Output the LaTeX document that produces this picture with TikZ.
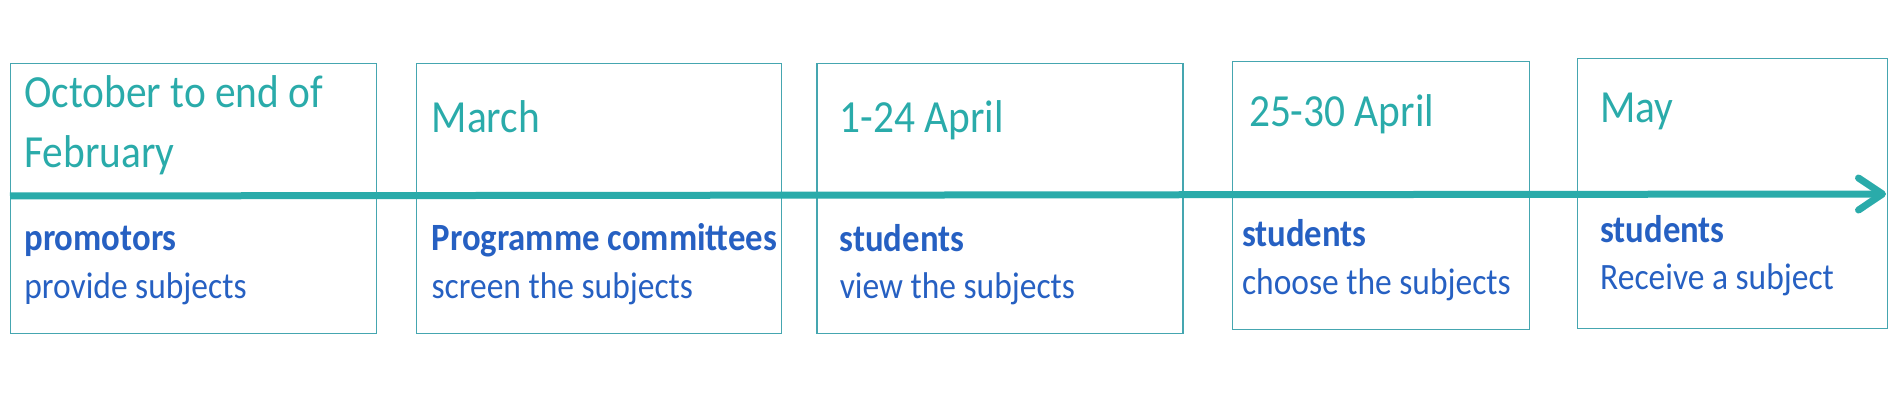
\documentclass[tikz,border=0pt]{standalone}
\usepackage{fontspec}
\setmainfont{Carlito}[FakeStretch=0.9]
\usetikzlibrary{positioning,arrows.meta}
\definecolor{lineteal}{HTML}{2AABAA}
\definecolor{frameteal}{HTML}{45A6B0}
\definecolor{textblue}{HTML}{2660C2}
\tikzstyle{period} = [draw=frameteal, line width=0.6pt, rectangle, minimum height=135pt, inner sep=0pt]
\tikzstyle{when} = [text=lineteal, font=\fontsize{23}{30}\selectfont, inner sep=0pt]
\tikzstyle{who} = [text=textblue, font=\fontsize{19.3}{24}\selectfont\bfseries, inner sep=0pt]
\tikzstyle{what} = [text=textblue, font=\fontsize{18.6}{24}\selectfont, inner sep=0pt]

\begin{document}
\begin{tikzpicture}[x=0.5pt, y=-0.5pt]
        \useasboundingbox (0,0) rectangle (1890,416);

        % the five periods
        \node [period, minimum width=183pt, anchor=north west] (oct) at (10,63) {};
        \node [period, minimum width=182.5pt, right=19.5pt of oct] (mar) {};
        \node [period, minimum width=183pt, right=17pt of mar] (apr) {};
        \node [period, minimum width=148.5pt, minimum height=134pt, right=24pt of apr, yshift=1.5pt] (late) {};
        \node [period, minimum width=155pt, right=23.5pt of late, yshift=1pt] (may) {};

        % time line
        \coordinate (tl-start) at (10,196);
        \coordinate (tl-end) at (1886,194);
        \draw [lineteal, line width=3.5pt, -{Straight Barb[length=12pt, width=16pt, round]}] (tl-start) -- (tl-end);

        \node [when, below right=22.5pt and 7pt of oct.north west, anchor=base west] (oct-when1) {October to end of};
        \node [when, below right=52.5pt and 7pt of oct.north west, anchor=base west] (oct-when2) {February};
        \node [who, below right=94pt and 7pt of oct.north west, anchor=base west] (oct-who) {promotors};
        \node [what, below right=118pt and 7pt of oct.north west, anchor=base west] (oct-what) {provide subjects};

        \node [when, below right=35pt and 7.5pt of mar.north west, anchor=base west] (mar-when) {March};
        \node [who, below right=94pt and 7.5pt of mar.north west, anchor=base west] (mar-who) {Programme committees};
        \node [what, below right=118pt and 7.5pt of mar.north west, anchor=base west] (mar-what) {screen the subjects};

        \node [when, below right=35pt and 11.5pt of apr.north west, anchor=base west] (apr-when) {1-24 April};
        \node [who, below right=94.5pt and 11.5pt of apr.north west, anchor=base west] (apr-who) {students};
        \node [what, below right=118pt and 11.5pt of apr.north west, anchor=base west] (apr-what) {view the subjects};

        \node [when, below right=33pt and 8.5pt of late.north west, anchor=base west] (late-when) {25-30 April};
        \node [who, below right=93pt and 5pt of late.north west, anchor=base west] (late-who) {students};
        \node [what, below right=117pt and 5pt of late.north west, anchor=base west] (late-what) {choose the subjects};

        \node [when, below right=32.5pt and 11.5pt of may.north west, anchor=base west] (may-when) {May};
        \node [who, below right=92.5pt and 11.5pt of may.north west, anchor=base west] (may-who) {students};
        \node [what, below right=116pt and 11.5pt of may.north west, anchor=base west] (may-what) {Receive a subject};
\end{tikzpicture}
\end{document}
